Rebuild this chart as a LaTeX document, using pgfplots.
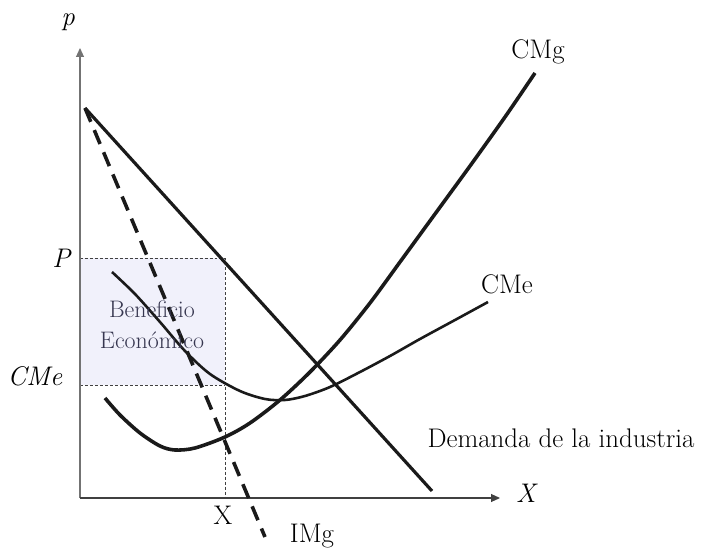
\documentclass[border=0pt]{standalone}
\usepackage{pgfplots}
\pgfplotsset{compat=1.18}
\usetikzlibrary{arrows.meta}
\definecolor{lav}{RGB}{241,241,251}
\definecolor{bentext}{RGB}{55,55,80}
\definecolor{ink}{RGB}{26,26,26}
\begin{document}
\begin{tikzpicture}
\begin{axis}[
  x=1bp, y=1bp, y dir=reverse,
  xmin=0, xmax=702, ymin=0, ymax=552,
  hide axis, clip=false,
]
\path (axis cs:0,0) rectangle (axis cs:702,552);
% shaded profit area
\addplot[fill=lav, draw=none] coordinates {(80,258) (225,258) (225,385) (80,385)} -- cycle;
% dashed guides
\addplot[densely dashed, black!75, line width=0.8pt] coordinates {(80,258) (225,258) (225,498)};
\addplot[densely dashed, black!75, line width=0.8pt] coordinates {(80,385) (225,385)};
% axes
\addplot[gray!90!black, line width=1.1pt, -{Triangle[length=9bp,width=8bp]}] coordinates {(80,498) (80,48)};
\addplot[black!75, line width=1.1pt, -{Triangle[length=9bp,width=8bp]}] coordinates {(80,498) (500,498)};
% demand
\addplot[ink, line width=3.2pt] coordinates {(85,108) (432,491)};
% IMg
\addplot[ink, line width=3.6pt, dash pattern=on 15bp off 9bp] coordinates {(85,108) (265,537)};
% CMg
\addplot[ink, line width=3.6pt, smooth] coordinates {
 (105,398) (120,415) (140,433) (160,446) (175,450) (195,448) (225,437) (250,423)
 (280,400) (310,372) (340,340) (370,303) (400,262) (435,214) (470,166) (505,117) (535,73)};
% CMe
\addplot[ink, line width=2.6pt, smooth] coordinates {
 (112,272) (135,294) (160,322) (185,351) (210,374) (240,391) (265,399)
 (285,400) (305,396) (330,387) (360,372) (390,356) (420,339) (455,320) (488,302)};
% labels
\begin{scope}[font=\fontsize{27}{31}\selectfont]
\node at (axis cs:68,22) {\textit{p}};
\node at (axis cs:527,493) {\textit{X}};
\node at (axis cs:62,258) {\textit{P}};
\node at (axis cs:35,376) {\textit{CMe}};
\node at (axis cs:223,515) {X};
\node at (axis cs:312,536) {IMg};
\node at (axis cs:538,52) {CMg};
\node at (axis cs:507,284) {CMe};
\node at (axis cs:561,438) {Demanda de la industria};
\node[align=center, text=bentext, font=\fontsize{24}{31}\selectfont] at (axis cs:152,325) {Beneficio\\Económico};
\end{scope}
\end{axis}
\end{tikzpicture}
\end{document}
